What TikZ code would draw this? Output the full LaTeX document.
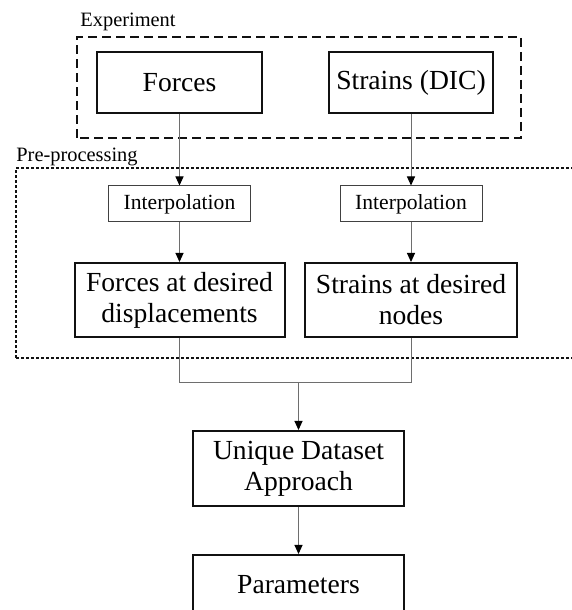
\documentclass[tikz,border=0pt]{standalone}
\usepackage{fontspec}
\setmainfont{Liberation Serif}
\usepackage{xcolor}
\usepackage{tikz}
\usetikzlibrary{arrows.meta}
\definecolor{FCInk}{HTML}{111111}
\definecolor{FCLine}{HTML}{6E6E6E}

\tikzset{
  mainbox/.style={draw=FCInk,line width=1pt,align=center,inner sep=0pt,
    font=\fontsize{13.8}{15.5}\selectfont},
  interpbox/.style={draw=FCInk!80,line width=0.5pt,align=center,inner sep=0pt,
    minimum width=71pt,minimum height=18pt,font=\fontsize{10.8}{12}\selectfont},
  grouplabel/.style={anchor=base west,inner sep=0pt,font=\fontsize{10.2}{12}\selectfont},
  flow/.style={draw=FCLine,line width=0.5pt,-{Triangle[width=4pt,length=4.5pt,color=black]}},
  feedline/.style={draw=FCLine,line width=0.5pt}
}

\begin{document}
\begin{tikzpicture}[x=0.5pt,y=0.5pt]
\path[use as bounding box] (0,0) rectangle (572,610);
\draw[FCInk,line width=1pt,dash pattern=on 4.5pt off 2.5pt] (77,472) rectangle (521,573);
\draw[FCInk,line width=0.75pt,dash pattern=on 1.5pt off 1pt] (16,252) rectangle (590,442);
\node[grouplabel] (lblexp) at (80,583) {Experiment};
\node[grouplabel] (lblpre) at (16,448) {Pre-processing};
\node[mainbox,minimum width=82.5pt,minimum height=30.5pt] (forces) at (179.5,527.5) {Forces};
\node[mainbox,minimum width=82pt,minimum height=30.5pt] (strains) at (411,527.5) {Strains (DIC)};
\node[interpbox] (interpF) at (179.5,406) {Interpolation};
\node[interpbox] (interpS) at (411,406) {Interpolation};
\node[mainbox,minimum width=105pt,minimum height=37pt] (forcesat) at (179.5,310) {Forces at desired\\displacements};
\node[mainbox,minimum width=106pt,minimum height=37pt] (strainsat) at (411,310) {Strains at desired\\nodes};
\node[mainbox,minimum width=105.5pt,minimum height=37.5pt] (unique) at (298.5,141.5) {Unique Dataset\\Approach};
\node[mainbox,minimum width=105.5pt,minimum height=30pt] (params) at (298.5,25) {Parameters};
\coordinate (merge) at (298.5,227);
\draw[flow] (forces) -- (interpF);
\draw[flow] (strains) -- (interpS);
\draw[flow] (interpF) -- (forcesat);
\draw[flow] (interpS) -- (strainsat);
\draw[feedline] (forcesat.south) |- (merge);
\draw[feedline] (strainsat.south) |- (merge);
\draw[flow] (merge) -- (unique);
\draw[flow] (unique) -- (params);
\end{tikzpicture}
\end{document}
